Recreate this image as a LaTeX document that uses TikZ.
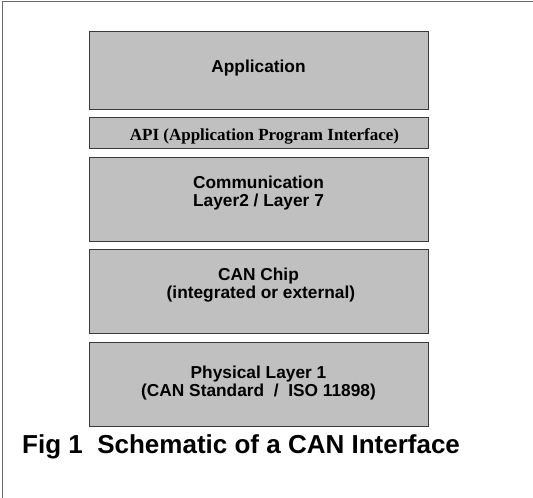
\documentclass[tikz,border=0pt]{standalone}
\usepackage{fontspec}
\setmainfont{Liberation Sans}
\newfontfamily\apifont{Liberation Serif}
\usepackage{tikz}
\definecolor{layergray}{HTML}{C0C0C0}
\definecolor{edgegray}{HTML}{3A3A3A}
\definecolor{framegray}{HTML}{6A6A6A}
\usetikzlibrary{positioning}

\begin{document}
\begin{tikzpicture}[
          x = 1pt, y = -1pt,
          node distance = 8.5pt,
          layer/.style = {draw=edgegray, fill=layergray, line width=1pt,
                          minimum width=339pt, minimum height=84pt,
                          inner sep=0pt, outer sep=0pt},
          lbl/.style = {font=\bfseries\fontsize{17.3}{17.8}\selectfont,
                        align=center, anchor=base, inner sep=0pt},
          apilbl/.style = {font=\apifont\bfseries\fontsize{17}{18}\selectfont,
                           anchor=base, inner sep=0pt},
          caption/.style = {font=\bfseries\fontsize{26}{28}\selectfont,
                            anchor=base west, inner sep=0pt},
          frame/.style = {draw=framegray, line width=1.5pt},
        ]
        \useasboundingbox (0,0) rectangle (533,498);

        %% Frame (top and left edges only)
        \coordinate (fbl) at (2.5,498);
        \coordinate (ftl) at (2.5,1.5);
        \coordinate (ftr) at (533,1.5);
        \draw[frame] (fbl) -- (ftl) -- (ftr);

        %% Layer boxes
        \node[layer, minimum height=78pt] (app) at (258.5,70) {};
        \node[layer, minimum height=31pt, below=of app] (api) {};
        \node[layer, below=of api]  (comm) {};
        \node[layer, below=of comm] (chip) {};
        \node[layer, below=of chip] (phys) {};

        %% Labels (base = last line)
        \node[lbl]    (appt)  at ([yshift=-41pt]app.north)    {Application};
        \node[apilbl] (apit)  at ([xshift=6pt,yshift=-22.5pt]api.north) {API (Application Program Interface)};
        \node[lbl]    (commt) at ([yshift=-49pt]comm.north)   {Communication\\Layer2 / Layer 7};
        \node[lbl]    (chipt) at ([yshift=-48.5pt]chip.north) {CAN Chip\\\ (integrated or external)};
        \node[lbl]    (physt) at ([yshift=-54pt]phys.north)   {Physical Layer 1\\(CAN Standard\ \ /\ \ ISO 11898)};

        %% Caption
        \node[caption] (cap) at (22,453) {Fig 1\ \ Schematic of a CAN Interface};
      \end{tikzpicture}
\end{document}
